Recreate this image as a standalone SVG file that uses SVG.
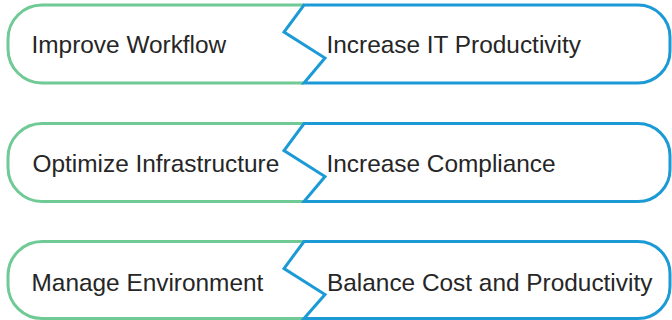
<svg xmlns="http://www.w3.org/2000/svg" width="672" height="320" viewBox="0 0 672 320">
<style>
.g{fill:none;stroke:#6fca95;stroke-width:3;stroke-linejoin:round}
.b{fill:none;stroke:#1b9ad6;stroke-width:3;stroke-linejoin:miter}
.t{font-family:"Liberation Sans",Arial,sans-serif;font-size:24.4px;fill:#262626}
</style>
<rect width="672" height="320" fill="#fff"/>
<g id="row1" transform="translate(0,5)">
<path class="g" d="M304,0 L42,0 A34,34 0 0 0 8,34 L8,44 A34,34 0 0 0 42,78 L304,78"/>
<path class="b" d="M304,0 L638,0 A32,32 0 0 1 670,32 L670,46 A32,32 0 0 1 638,78 L304,78 L325,53 L284,27 Z"/>
<text class="t" x="31.5" y="48">Improve Workflow</text>
<text class="t" x="326.5" y="48">Increase IT Productivity</text>
</g>
<g id="row2" transform="translate(0,123.5)">
<path class="g" d="M304,0 L42,0 A34,34 0 0 0 8,34 L8,44 A34,34 0 0 0 42,78 L304,78"/>
<path class="b" d="M304,0 L638,0 A32,32 0 0 1 670,32 L670,46 A32,32 0 0 1 638,78 L304,78 L325,53 L284,27 Z"/>
<text class="t" x="32.5" y="48">Optimize Infrastructure</text>
<text class="t" x="326.5" y="48">Increase Compliance</text>
</g>
<g id="row3" transform="translate(0,241.5)">
<path class="g" d="M304,0 L42,0 A34,34 0 0 0 8,34 L8,44 A34,34 0 0 0 42,77 L304,77"/>
<path class="b" d="M304,0 L638,0 A32,32 0 0 1 670,32 L670,45 A32,32 0 0 1 638,77 L304,77 L325,53 L284,27 Z"/>
<text class="t" x="31.5" y="49">Manage Environment</text>
<text class="t" x="327" y="49">Balance Cost and Productivity</text>
</g>
<g id="connectors"/>
</svg>
